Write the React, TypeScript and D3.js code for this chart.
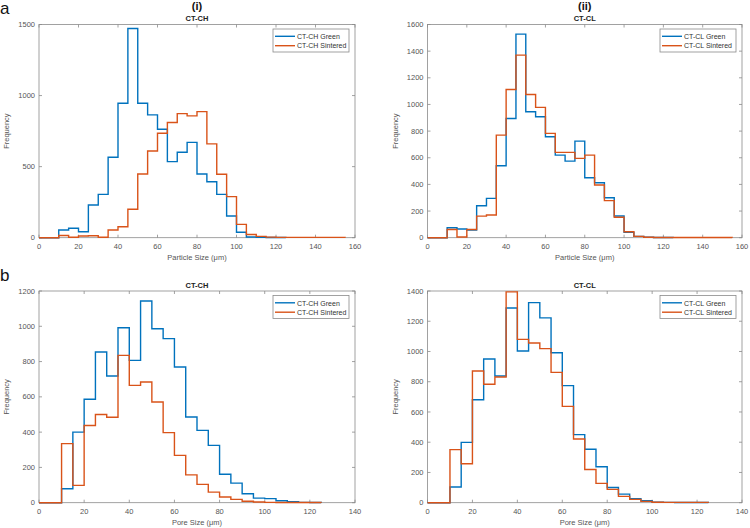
import React from "react";
import * as d3 from "d3";

// bin width 5, first bin starts at 0
const BIN = 5;

const chParticleGreen = [0, 0, 54, 66, 42, 230, 305, 566, 946, 1472, 946, 864, 763, 535, 601, 671, 448, 394, 305, 153, 38, 5, 2, 1, 1];
const chParticleSintered = [0, 0, 16, 3, 12, 14, 3, 54, 77, 200, 448, 610, 735, 810, 873, 857, 887, 660, 446, 289, 94, 23, 9, 4, 2, 2, 2, 2, 2, 2, 2];

const clParticleGreen = [0, 0, 75, 65, 58, 240, 295, 540, 895, 1528, 945, 908, 758, 620, 575, 725, 450, 412, 300, 163, 40, 10, 3, 1, 1];
const clParticleSintered = [0, 0, 62, 5, 62, 162, 170, 770, 1112, 1370, 1075, 978, 783, 640, 640, 595, 620, 395, 278, 153, 45, 10, 3, 2, 1, 1, 1, 1, 1, 1, 1];

const chPoreGreen = [0, 0, 79, 400, 586, 854, 718, 992, 807, 1143, 986, 930, 769, 486, 410, 325, 161, 111, 51, 26, 23, 11, 6, 2, 1];
const chPoreSintered = [0, 0, 335, 98, 438, 500, 484, 835, 665, 684, 571, 397, 268, 158, 104, 60, 32, 19, 8, 4, 2, 1, 1, 1, 1];

const clPoreGreen = [0, 0, 104, 399, 681, 950, 838, 1288, 1003, 1323, 1222, 992, 774, 450, 353, 238, 101, 57, 26, 13, 4, 2, 1, 1, 1];
const clPoreSintered = [0, 0, 351, 258, 871, 783, 831, 1394, 1080, 1056, 1019, 862, 637, 421, 220, 128, 88, 42, 22, 9, 3, 2, 2, 2, 2];

const particleTicks = [0, 20, 40, 60, 80, 100, 120, 140, 160];
const poreTicks = [0, 20, 40, 60, 80, 100, 120, 140];
const chParticleYTicks = [0, 500, 1000, 1500];
const clParticleYTicks = [0, 200, 400, 600, 800, 1000, 1200, 1400, 1600];
const chPoreYTicks = [0, 200, 400, 600, 800, 1000, 1200];
const clPoreYTicks = [0, 200, 400, 600, 800, 1000, 1200, 1400];

const BLUE = "#0072BD";
const ORANGE = "#D95319";
const AXIS = "#8a8a8a";
const TEXT = "#555";
const FONT = "'Liberation Sans', Arial, sans-serif";

const stairs = (vals: number[], x: d3.ScaleLinear<number, number>, y: d3.ScaleLinear<number, number>) => {
  let d = `M${x(0)},${y(0)}`;
  vals.forEach((v, i) => {
    d += `V${y(v)}H${x((i + 1) * BIN)}`;
  });
  d += `V${y(0)}`;
  return d;
};

function Panel(props: any) {
  const { left, right, top, bottom, xMax, yMax, xTicks, yTicks, green, sintered, title, name, xLabel } = props;
  const x = d3.scaleLinear().domain([0, xMax]).range([left, right]);
  const y = d3.scaleLinear().domain([0, yMax]).range([bottom, top]);
  const tl = 3;
  const lw = 76, lh = 23;
  const lx = right - lw - 6, ly = top + 4.5;

  return (
    <g>
      <rect x={left} y={top} width={right - left} height={bottom - top} fill="white" stroke={AXIS} strokeWidth={0.8} />
      {xTicks.map((t: number) => (
        <g key={"x" + t}>
          <line x1={x(t)} x2={x(t)} y1={bottom} y2={bottom - tl} stroke={AXIS} strokeWidth={0.8} />
          <line x1={x(t)} x2={x(t)} y1={top} y2={top + tl} stroke={AXIS} strokeWidth={0.8} />
          <text x={x(t)} y={bottom + 11} textAnchor="middle" fontSize={7.5} fill={TEXT}>{t}</text>
        </g>
      ))}
      {yTicks.map((t: number) => (
        <g key={"y" + t}>
          <line x1={left} x2={left + tl} y1={y(t)} y2={y(t)} stroke={AXIS} strokeWidth={0.8} />
          <line x1={right} x2={right - tl} y1={y(t)} y2={y(t)} stroke={AXIS} strokeWidth={0.8} />
          <text x={left - 4} y={y(t) + 2.6} textAnchor="end" fontSize={7.5} fill={TEXT}>{t}</text>
        </g>
      ))}
      <path d={stairs(green, x, y)} fill="none" stroke={BLUE} strokeWidth={1.4} />
      <path d={stairs(sintered, x, y)} fill="none" stroke={ORANGE} strokeWidth={1.4} />
      <text x={(left + right) / 2} y={top - 3.5} textAnchor="middle" fontSize={7.5} fontWeight="bold" fill="#222">{name}</text>
      {title && (
        <text x={(left + right) / 2} y={10} textAnchor="middle" fontSize={11} fontWeight="bold" fill="#111">{title}</text>
      )}
      <text x={(left + right) / 2} y={bottom + 22} textAnchor="middle" fontSize={7.5} fill={TEXT}>{xLabel}</text>
      <text transform={`translate(${left - 30},${(top + bottom) / 2}) rotate(-90)`} textAnchor="middle" fontSize={7.5} fill={TEXT}>Frequency</text>
      <rect x={lx} y={ly} width={lw} height={lh} fill="white" stroke={AXIS} strokeWidth={0.8} />
      <line x1={lx + 2} x2={lx + 22} y1={ly + 7.3} y2={ly + 7.3} stroke={BLUE} strokeWidth={1.4} />
      <line x1={lx + 2} x2={lx + 22} y1={ly + 16.7} y2={ly + 16.7} stroke={ORANGE} strokeWidth={1.4} />
      <text x={lx + 24} y={ly + 10} fontSize={7} fill="#333">{name} Green</text>
      <text x={lx + 24} y={ly + 19.4} fontSize={7} fill="#333">{name} Sintered</text>
    </g>
  );
}

export default function App() {
  return (
    <svg width={750} height={528} style={{ position: "absolute", left: 0, top: 0, fontFamily: FONT }}>
      <rect width={750} height={528} fill="white" />
      <text x={0} y={14} fontSize={17} fill="#111">a</text>
      <text x={0} y={281} fontSize={17} fill="#111">b</text>
      <Panel left={39} right={355} top={24.5} bottom={237.7} xMax={160} yMax={1500}
        xTicks={particleTicks} yTicks={chParticleYTicks} green={chParticleGreen} sintered={chParticleSintered}
        title="(i)" name="CT-CH" xLabel="Particle Size (μm)" />
      <Panel left={427.5} right={742} top={24.5} bottom={237.7} xMax={160} yMax={1600}
        xTicks={particleTicks} yTicks={clParticleYTicks} green={clParticleGreen} sintered={clParticleSintered}
        title="(ii)" name="CT-CL" xLabel="Particle Size (μm)" />
      <Panel left={39} right={355} top={291} bottom={502.7} xMax={140} yMax={1200}
        xTicks={poreTicks} yTicks={chPoreYTicks} green={chPoreGreen} sintered={chPoreSintered}
        name="CT-CH" xLabel="Pore Size (μm)" />
      <Panel left={427.5} right={742} top={291} bottom={502.7} xMax={140} yMax={1400}
        xTicks={poreTicks} yTicks={clPoreYTicks} green={clPoreGreen} sintered={clPoreSintered}
        name="CT-CL" xLabel="Pore Size (μm)" />
    </svg>
  );
}
